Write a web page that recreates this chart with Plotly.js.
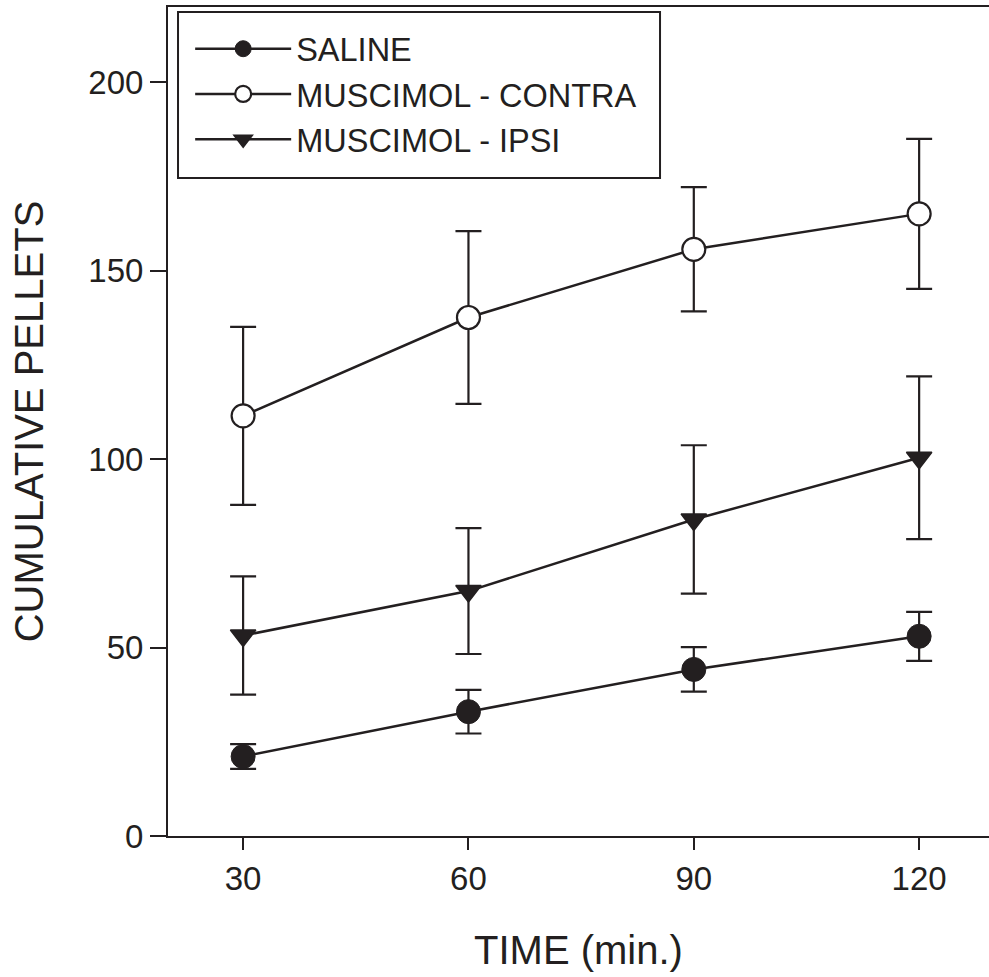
<!DOCTYPE html>
<html>
<head>
<meta charset="utf-8">
<script src="https://cdn.plot.ly/plotly-3.0.1.min.js"></script>
<style>html,body{margin:0;padding:0;background:#fff;} #chart{width:989px;height:977px;}</style>
</head>
<body>
<div id="chart"></div>
<script>
const timeMin = [30, 60, 90, 120];
const salineMean = [21.1, 33.0, 44.2, 53.0];
const salineErr = [3.3, 5.8, 5.9, 6.5];
const contraMean = [111.5, 137.6, 155.7, 165.1];
const contraErr = [23.6, 22.9, 16.5, 19.9];
const ipsiMean = [53.2, 65.0, 84.0, 100.4];
const ipsiErr = [15.7, 16.7, 19.7, 21.6];
const seriesNames = ['SALINE', 'MUSCIMOL - CONTRA', 'MUSCIMOL - IPSI'];
const yTicks = [0, 50, 100, 150, 200];
const xTicks = [30, 60, 90, 120];

const ink = '#231f20';
const font = 'Liberation Sans, Arial, sans-serif';

function errSpec(arr) {
  return {type: 'data', array: arr, visible: true, color: ink, thickness: 2.2, width: 13};
}

const traces = [
  {
    x: timeMin, y: salineMean, name: seriesNames[0], type: 'scatter', mode: 'lines+markers',
    line: {color: ink, width: 2.5},
    marker: {symbol: 'circle', size: 24, color: ink, line: {color: ink, width: 1}},
    error_y: errSpec(salineErr)
  },
  {
    x: timeMin, y: contraMean, name: seriesNames[1], type: 'scatter', mode: 'lines+markers',
    line: {color: ink, width: 2.5},
    marker: {symbol: 'circle', size: 23, color: '#ffffff', line: {color: ink, width: 2.2}},
    error_y: errSpec(contraErr)
  },
  {
    x: timeMin, y: ipsiMean, name: seriesNames[2], type: 'scatter', mode: 'lines+markers',
    line: {color: ink, width: 2.5},
    marker: {symbol: 'triangle-down', size: 22, color: ink, line: {color: ink, width: 1.5}},
    error_y: errSpec(ipsiErr)
  }
];

const layout = {
  width: 989, height: 977,
  margin: {l: 168, r: 0, t: 7, b: 141},
  paper_bgcolor: '#fff', plot_bgcolor: '#fff',
  font: {family: font, color: ink, size: 33},
  showlegend: true,
  legend: {
    x: 0.027, y: 0.983, xanchor: 'left', yanchor: 'top',
    font: {family: font, size: 32.5, color: ink},
    bgcolor: 'rgba(0,0,0,0)', borderwidth: 0,
    itemwidth: 96, tracegroupgap: 0
  },
  xaxis: {
    range: [20, 129.3], tickvals: xTicks, ticktext: xTicks.map(String),
    showgrid: false, zeroline: false, showline: true, linecolor: ink, linewidth: 2,
    mirror: true,
    ticks: 'outside', ticklen: 12, tickwidth: 2, tickcolor: ink,
    tickfont: {family: font, size: 33, color: ink},
    title: {text: 'TIME (min.)', font: {family: font, size: 40, color: ink}, standoff: 40}
  },
  yaxis: {
    range: [0, 220], tickvals: yTicks, ticktext: yTicks.map(String),
    showgrid: false, zeroline: false, showline: true, linecolor: ink, linewidth: 2,
    ticks: 'outside', ticklen: 16, tickwidth: 2, tickcolor: ink,
    tickfont: {family: font, size: 33, color: ink},
    title: {text: 'CUMULATIVE PELLETS', font: {family: font, size: 40, color: ink}, standoff: 32}
  },
  shapes: [{
    type: 'rect', xref: 'paper', yref: 'paper',
    x0: 0.0122, x1: 0.5993, y0: 0.7936, y1: 0.9940,
    line: {color: ink, width: 2}, fillcolor: 'rgba(0,0,0,0)'
  }]
};

Plotly.newPlot('chart', traces, layout, {displayModeBar: false, staticPlot: true});
</script>
</body>
</html>
